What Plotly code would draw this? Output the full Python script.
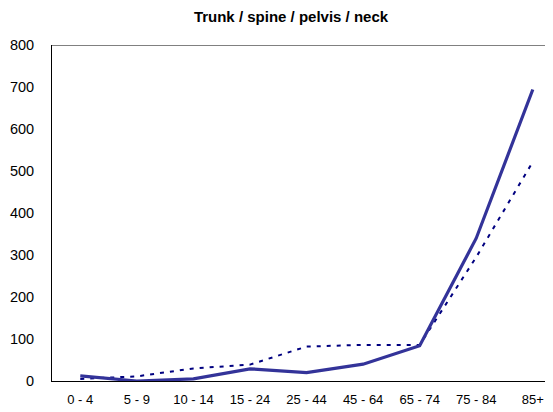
import plotly.graph_objects as go

age_groups = ["0 - 4", "5 - 9", "10 - 14", "15 - 24", "25 - 44", "45 - 64", "65 - 74", "75 - 84", "85+"]
series_solid = [12, 0, 5, 29, 20, 40, 84, 340, 694]
series_dotted = [5, 11, 30, 39, 82, 86, 86, 295, 522]
y_ticks = [0, 100, 200, 300, 400, 500, 600, 700, 800]

# page body has an 8px margin, so the figure is sized/offset to compensate
OFF = 8

fig = go.Figure()
fig.add_trace(go.Scatter(
    x=age_groups, y=series_dotted, mode="lines", name="Series 2",
    line=dict(color="#000080", width=2, dash="4px,6px"),
))
fig.add_trace(go.Scatter(
    x=age_groups, y=series_solid, mode="lines", name="Series 1",
    line=dict(color="#333399", width=3.2),
))

W, H = 553 - OFF, 412 - OFF
fig.update_layout(
    width=W, height=H,
    margin=dict(l=52 - OFF, r=0, t=45 - OFF, b=31),
    paper_bgcolor="white", plot_bgcolor="white",
    showlegend=False,
    font=dict(family="Liberation Sans, Arial, sans-serif", size=13, color="black"),
    title=dict(text="<b>Trunk / spine / pelvis / neck</b>", x=(291 - OFF) / W, xanchor="center",
               y=1 - (17 - OFF) / H, yanchor="middle", font=dict(size=15, color="black")),
    xaxis=dict(type="category", range=[-0.5, 8.357], showgrid=False, zeroline=False,
               showline=True, linecolor="black", linewidth=1, ticks="",
               ticklabelstandoff=6, tickfont=dict(size=13)),
    yaxis=dict(range=[0, 800], tickvals=y_ticks, showgrid=False, zeroline=False,
               showline=True, linecolor="black", linewidth=1, ticks="",
               ticklabelstandoff=14, tickfont=dict(size=14.5)),
    shapes=[dict(type="line", xref="paper", yref="y", x0=0, x1=1, y0=800, y1=800,
                 line=dict(color="#808080", width=2))],
)

fig.write_html("out.html")
